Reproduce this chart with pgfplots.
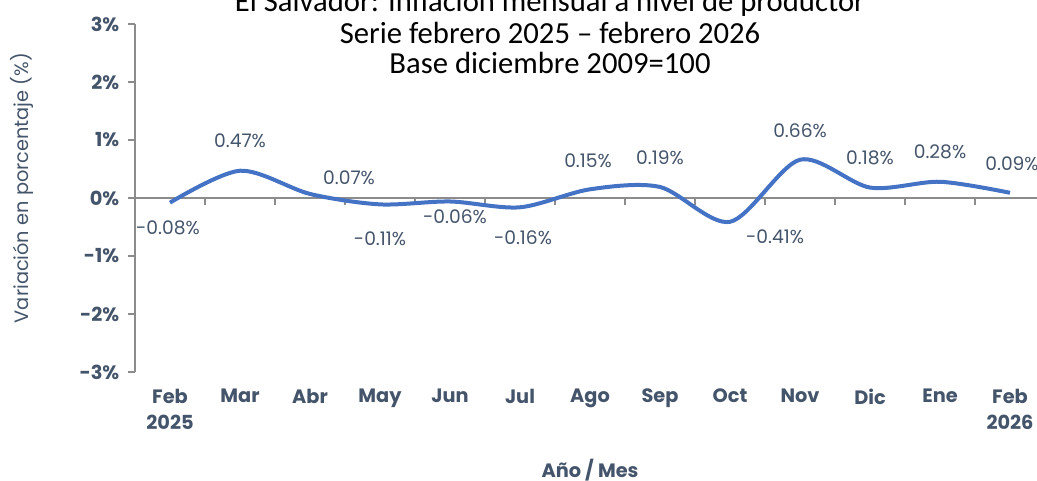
\documentclass[border=0pt]{standalone}
\usepackage{pgfplots}
\pgfplotsset{compat=1.18}
\usepackage{pgfplotstable}
\usepackage{fontspec}
\setmainfont{Poppins}
\newfontfamily\titlefont{Carlito}
\definecolor{slate}{HTML}{44546A}
\definecolor{lineblue}{HTML}{4472C4}
\definecolor{axgray}{HTML}{8C8C8C}

\pgfplotstableread{
x y dx dy
0 -0.08 -1.5 -18.75
1 0.47 0 22.5
2 0.07 29.25 12
3 -0.11 0 -25.5
4 -0.06 3.75 -11.25
5 -0.16 2.25 -22.5
6 0.15 -1.5 21.75
7 0.19 0 21.75
8 -0.41 33.75 -11.25
9 0.66 0 21.75
10 0.18 0 22.5
11 0.28 0 22.5
12 0.09 1.5 21.75
}\datatable

\begin{document}
\begin{tikzpicture}
\begin{axis}[
  at={(101.25pt,81pt)}, anchor=south west,
  scale only axis, width=682.5pt, height=261pt,
  xmin=-0.5, xmax=12.5, ymin=-3, ymax=3,
  axis x line*=bottom, axis y line*=left,
  axis line style={-, axgray, line width=1.1pt},
  x axis line style={draw=none},
  xtick={0,...,12},
  xticklabels={{Feb\\2025},Mar,Abr,May,Jun,Jul,Ago,Sep,Oct,Nov,Dic,Ene,{Feb\\2026}},
  x tick style={draw=none},
  xticklabel style={align=center, font=\bfseries\fontsize{14.5}{19.5}\selectfont, text=slate, anchor=north, yshift=-4pt},
  ytick={-3,...,3},
  yticklabel={\pgfmathprintnumber{\tick}\%},
  yticklabel style={font=\bfseries\fontsize{14.5}{16}\selectfont, text=slate, xshift=-3pt},
  y tick style={axgray, line width=1.1pt},
  tick align=outside,
  major tick length=5.25pt,
  /pgf/number format/assume math mode=true,
  xlabel={Año / Mes},
  x label style={at={(axis description cs:0.5,0)}, anchor=center, yshift=-73.5pt, font=\bfseries\fontsize{14.5}{16}\selectfont, text=slate},
  ylabel={Variación en porcentaje (\%)},
  y label style={at={([xshift=-84.75pt,yshift=7.5pt]axis description cs:0,0.5)}, anchor=center, font=\fontsize{14.5}{16}\selectfont, text=slate},
  clip=false,
]
\addplot[axgray, line width=1.1pt, forget plot] coordinates {(-0.5,0) (12.5,0)};
\addplot[ycomb, axgray, line width=1.1pt, no markers, forget plot] coordinates {
(0.5,-0.12) (1.5,-0.12) (2.5,-0.12) (3.5,-0.12) (4.5,-0.12) (5.5,-0.12)
(6.5,-0.12) (7.5,-0.12) (8.5,-0.12) (9.5,-0.12) (10.5,-0.12) (11.5,-0.12)};
\addplot[lineblue, line width=3pt, smooth, no markers,
  point meta=explicit,
  visualization depends on={\thisrow{dx}\as\dx},
  visualization depends on={\thisrow{dy}\as\dy},
  nodes near coords={\pgfmathprintnumber[fixed,precision=2,fixed zerofill]{\pgfplotspointmeta}\%},
  every node near coord/.style={anchor=center, xshift=\dx pt, yshift=\dy pt, font=\fontsize{14}{16}\selectfont, text=slate},
] table[x=x, y=y, meta=y]{\datatable};
\end{axis}
\node[font=\titlefont\fontsize{23}{27}\selectfont, text=black] at (412.5pt,357.75pt) {El Salvador: Inflación mensual a nivel de productor};
\node[font=\titlefont\fontsize{23}{27}\selectfont, text=black] at (412.5pt,335.25pt) {Serie febrero 2025 – febrero 2026};
\node[font=\titlefont\fontsize{23}{27}\selectfont, text=black] at (412.5pt,312.75pt) {Base diciembre 2009=100};
\pgfresetboundingbox
\useasboundingbox (0,0) rectangle (777.75pt,360pt);
\end{tikzpicture}
\end{document}
